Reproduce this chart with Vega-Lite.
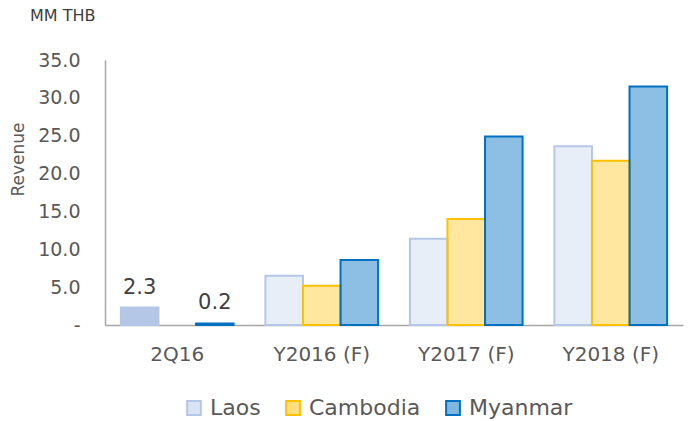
{
  "$schema": "https://vega.github.io/schema/vega-lite/v6.json",
  "width": 578,
  "height": 265,
  "autosize": {"type": "none"},
  "padding": {"left": 105, "top": 60, "right": 11, "bottom": 96},
  "background": "white",
  "title": {
    "text": "MM THB",
    "anchor": "start",
    "frame": "group",
    "dx": -75,
    "offset": 27,
    "font": "DejaVu Sans",
    "fontSize": 16,
    "fontWeight": "normal",
    "color": "#404040"
  },
  "config": {
    "view": {"stroke": null},
    "font": "DejaVu Sans"
  },
  "data": {
    "values": [
      {"period": "2Q16", "series": "Laos", "value": 2.3},
      {"period": "2Q16", "series": "Myanmar", "value": 0.2},
      {"period": "Y2016 (F)", "series": "Laos", "value": 6.5},
      {"period": "Y2016 (F)", "series": "Cambodia", "value": 5.2},
      {"period": "Y2016 (F)", "series": "Myanmar", "value": 8.6},
      {"period": "Y2017 (F)", "series": "Laos", "value": 11.4},
      {"period": "Y2017 (F)", "series": "Cambodia", "value": 14.0},
      {"period": "Y2017 (F)", "series": "Myanmar", "value": 24.9},
      {"period": "Y2018 (F)", "series": "Laos", "value": 23.6},
      {"period": "Y2018 (F)", "series": "Cambodia", "value": 21.7},
      {"period": "Y2018 (F)", "series": "Myanmar", "value": 31.5}
    ]
  },
  "encoding": {
    "x": {
      "field": "period",
      "type": "nominal",
      "sort": null,
      "scale": {"paddingInner": 0.22, "paddingOuter": 0.11},
      "axis": {
        "title": null,
        "labelAngle": 0,
        "labelFontSize": 20,
        "labelColor": "#595959",
        "labelPadding": 19,
        "ticks": false,
        "domainColor": "#A6A6A6",
        "domainWidth": 1.5
      }
    },
    "xOffset": {
      "field": "series",
      "type": "nominal",
      "scale": {"domain": ["Laos", "Cambodia", "Myanmar"], "paddingInner": 0, "paddingOuter": 0}
    },
    "y": {
      "field": "value",
      "type": "quantitative",
      "scale": {"domain": [0, 35], "nice": false},
      "axis": {
        "title": "Revenue",
        "titleFontSize": 17,
        "titleFontWeight": "normal",
        "titleColor": "#595959",
        "titleX": -78,
        "titleY": 99,
        "values": [0, 5, 10, 15, 20, 25, 30, 35],
        "labelExpr": "datum.value == 0 ? '-' : format(datum.value, '.1f')",
        "labelFontSize": 19,
        "labelColor": "#595959",
        "labelPadding": 25,
        "ticks": false,
        "grid": false,
        "domainColor": "#A6A6A6",
        "domainWidth": 1.5
      }
    }
  },
  "layer": [
    {
      "mark": {"type": "bar", "strokeWidth": 2},
      "encoding": {
        "color": {
          "field": "series",
          "type": "nominal",
          "scale": {"domain": ["Laos", "Cambodia", "Myanmar"], "range": ["#B4C7E7", "#FFC000", "#0070C0"]},
          "legend": {
            "title": null,
            "orient": "none",
            "direction": "horizontal",
            "legendX": 78,
            "legendY": 337,
            "symbolType": "square",
            "symbolSize": 190,
            "symbolStrokeWidth": 2,
            "labelFontSize": 22,
            "labelColor": "#595959",
            "columnPadding": 21,
            "labelOffset": 5,
            "encode": {"symbols": {"update": {"fillOpacity": {"value": 0.5}}}}
          }
        },
        "stroke": {
          "field": "series",
          "type": "nominal",
          "scale": {"domain": ["Laos", "Cambodia", "Myanmar"], "range": ["#B4C7E7", "#FFC000", "#0070C0"]},
          "legend": {
            "title": null,
            "orient": "none",
            "direction": "horizontal",
            "legendX": 78,
            "legendY": 337,
            "symbolType": "square",
            "symbolSize": 190,
            "symbolStrokeWidth": 2,
            "labelFontSize": 22,
            "labelColor": "#595959",
            "columnPadding": 21,
            "labelOffset": 5,
            "encode": {"symbols": {"update": {"fillOpacity": {"value": 0.5}}}}
          }
        },
        "fillOpacity": {
          "condition": {"test": "datum.period == '2Q16'", "value": 1},
          "field": "series",
          "type": "nominal",
          "scale": {"domain": ["Laos", "Cambodia", "Myanmar"], "range": [0.3, 0.45, 0.55]},
          "legend": null
        }
      }
    },
    {
      "transform": [{"filter": "datum.period == '2Q16'"}],
      "mark": {"type": "text", "baseline": "alphabetic", "dy": -14, "fontSize": 21, "color": "#404040"},
      "encoding": {
        "text": {"field": "value", "type": "quantitative", "format": ".1f"}
      }
    }
  ]
}
